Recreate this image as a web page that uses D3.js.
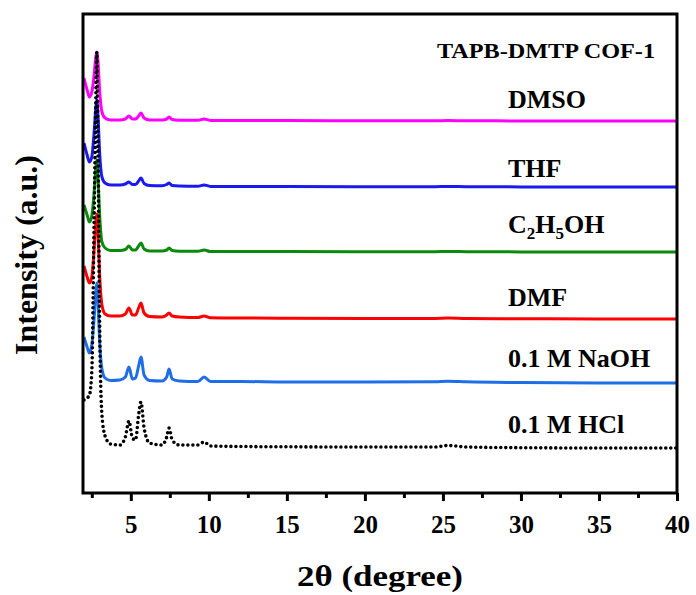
<!DOCTYPE html>
<html>
<head>
<meta charset="utf-8">
<script src="https://cdn.jsdelivr.net/npm/d3@7"></script>
<style>
  body { margin: 0; background: #fff; }
  svg { display: block; }
  text { font-family: "Liberation Serif", Times, "Times New Roman", serif; font-weight: bold; fill: #000; }
</style>
</head>
<body>
<svg id="chart" width="696" height="595"></svg>
<script>
// 2theta grid shared by all patterns
var twoTheta = [2.0, 2.2, 2.35, 2.5, 2.65, 2.75, 2.82, 2.9, 3.0, 3.15, 3.35, 3.7, 4.3, 4.65, 4.88, 5.1, 5.3, 5.5, 5.65, 5.85,
                6.2, 7.0, 7.3, 7.45, 7.65, 8.1, 9.3, 9.7, 10.1, 12, 15, 20, 24.5, 25.3, 26.5, 30, 35, 40];

// intensities (a.u.) above each pattern's own baseline
var dmso  = [43, 31, 24, 29, 46, 63, 69, 59, 31, 9, 3, 1, 1, 2, 5, 2, 2, 5, 8, 3,
             1, 1, 2, 4, 1.5, 0.8, 0.8, 2, 0.6, 0.5, 0.4, 0.3, 0.2, 0.4, 0.2, 0.1, 0, 0];
var thf   = [44, 32, 25, 30, 55, 78, 87, 70, 35, 10, 4, 2, 2, 3, 5, 2.5, 2.5, 6, 9, 3.5,
             1.5, 1.2, 2.5, 4, 1.5, 1, 0.8, 2, 0.6, 0.5, 0.4, 0.3, 0.3, 0.6, 0.3, 0.1, 0, 0];
var etoh  = [47, 37, 30, 36, 60, 82, 92, 74, 38, 10, 4, 1.5, 1.5, 2.5, 6, 2, 2, 6, 9, 3,
             1, 1, 2, 4, 1.5, 0.8, 0.8, 2, 0.5, 0.5, 0.4, 0.3, 0.3, 0.5, 0.3, 0.1, 0, 0];
var dmf   = [53, 42, 36, 42, 70, 95, 105, 85, 45, 14, 5, 3, 3, 5, 11, 4, 4, 11, 16, 6,
             2.5, 2, 4, 6, 3, 2, 1.5, 3, 1.2, 1, 0.8, 0.6, 0.6, 0.9, 0.5, 0.3, 0, 0];
var naoh  = [46, 36, 30, 38, 65, 90, 100, 80, 42, 14, 5, 2.5, 3, 6, 16, 4, 5, 17, 26, 8,
             2.5, 2, 6, 14, 4, 2, 1.5, 6, 1.5, 1.5, 1, 1, 1.2, 1.8, 1.2, 0.5, 0, 0];
var hcl   = [48, 50, 53, 76, 230, 340, 396, 298, 128, 33, 12, 4, 3, 11, 27, 10, 8, 33, 46, 20,
             5, 3, 11, 20, 8, 3, 3, 6, 2, 1.5, 1.2, 1, 1, 2.5, 1, 0.3, 0, 0];

var seriesNames = ["DMSO", "THF", "C2H5OH", "DMF", "0.1 M NaOH", "0.1 M HCl"];
var seriesData = [dmso, thf, etoh, dmf, naoh, hcl];
var offsets = [372, 306, 241, 174, 110, 45];
var colors = ["#ff00ff", "#1a1aee", "#0a8a0a", "#ff0000", "#1e6ee6", "#000000"];

var xTicks = [5, 10, 15, 20, 25, 30, 35, 40];
var xMinor = [2.5, 7.5, 12.5, 17.5, 22.5, 27.5, 32.5, 37.5];

var svg = d3.select("#chart");
var mLeft = 83, mRight = 677, mTop = 14, mBottom = 493;

var x = d3.scaleLinear().domain([2, 40]).range([mLeft + 1, mRight]);
var y = d3.scaleLinear().domain([0, 479]).range([mBottom, mTop]);

var line = d3.line()
    .x(d => x(d[0]))
    .y(d => y(d[1]))
    .curve(d3.curveMonotoneX);

var plot = svg.append("g");

seriesData.forEach(function(vals, i){
    var pts = twoTheta.map((t, j) => [t, vals[j] + offsets[i]]);
    var path = plot.append("path")
        .datum(pts)
        .attr("d", line)
        .attr("fill", "none")
        .attr("stroke", colors[i]);
    if (i == 5) {
        path.attr("stroke-width", 3.6)
            .attr("stroke-linecap", "round")
            .attr("stroke-dasharray", "0 5");
    } else {
        path.attr("stroke-width", 3)
            .attr("stroke-linejoin", "round");
    }
});

// frame
svg.append("rect")
    .attr("x", mLeft).attr("y", mTop)
    .attr("width", mRight - mLeft).attr("height", mBottom - mTop)
    .attr("fill", "none")
    .attr("stroke", "#000")
    .attr("stroke-width", 3);

// x axis major + minor ticks
var axis = svg.append("g")
    .attr("transform", "translate(0," + mBottom + ")")
    .call(d3.axisBottom(x).tickValues(xTicks).tickSize(8).tickPadding(14));
axis.select(".domain").remove();
axis.selectAll(".tick line").attr("stroke", "#000").attr("stroke-width", 3);
axis.selectAll(".tick text")
    .style("font-family", "'Liberation Serif', Times, serif")
    .style("font-weight", "bold")
    .style("font-size", "25px")
    .attr("fill", "#000");

var minor = svg.append("g")
    .attr("transform", "translate(0," + mBottom + ")")
    .call(d3.axisBottom(x).tickValues(xMinor).tickSize(5).tickFormat(""));
minor.select(".domain").remove();
minor.selectAll(".tick line").attr("stroke", "#000").attr("stroke-width", 3);

// axis titles
svg.append("text")
    .attr("x", 380).attr("y", 586)
    .attr("text-anchor", "middle")
    .attr("textLength", 166)
    .attr("lengthAdjust", "spacingAndGlyphs")
    .style("font-size", "29px")
    .text("2θ (degree)");

svg.append("text")
    .attr("transform", "translate(37,255) rotate(-90)")
    .attr("text-anchor", "middle")
    .style("font-size", "32px")
    .text("Intensity (a.u.)");

// title
svg.append("text")
    .attr("x", 655).attr("y", 58)
    .attr("text-anchor", "end")
    .attr("textLength", 218)
    .attr("lengthAdjust", "spacingAndGlyphs")
    .style("font-size", "21px")
    .text("TAPB-DMTP COF-1");

// series labels
var labelGap = [13, 10, 19, 13, 16, 15];
seriesNames.forEach(function(name, i){
    var t = svg.append("text")
        .attr("x", 508)
        .attr("y", y(offsets[i]) - labelGap[i])
        .style("font-size", "26px");
    if (name == "C2H5OH") {
        t.append("tspan").text("C");
        t.append("tspan").attr("dy", 6).style("font-size", "17px").text("2");
        t.append("tspan").attr("dy", -6).text("H");
        t.append("tspan").attr("dy", 6).style("font-size", "17px").text("5");
        t.append("tspan").attr("dy", -6).text("OH");
    } else {
        t.text(name);
    }
});
</script>
</body>
</html>
